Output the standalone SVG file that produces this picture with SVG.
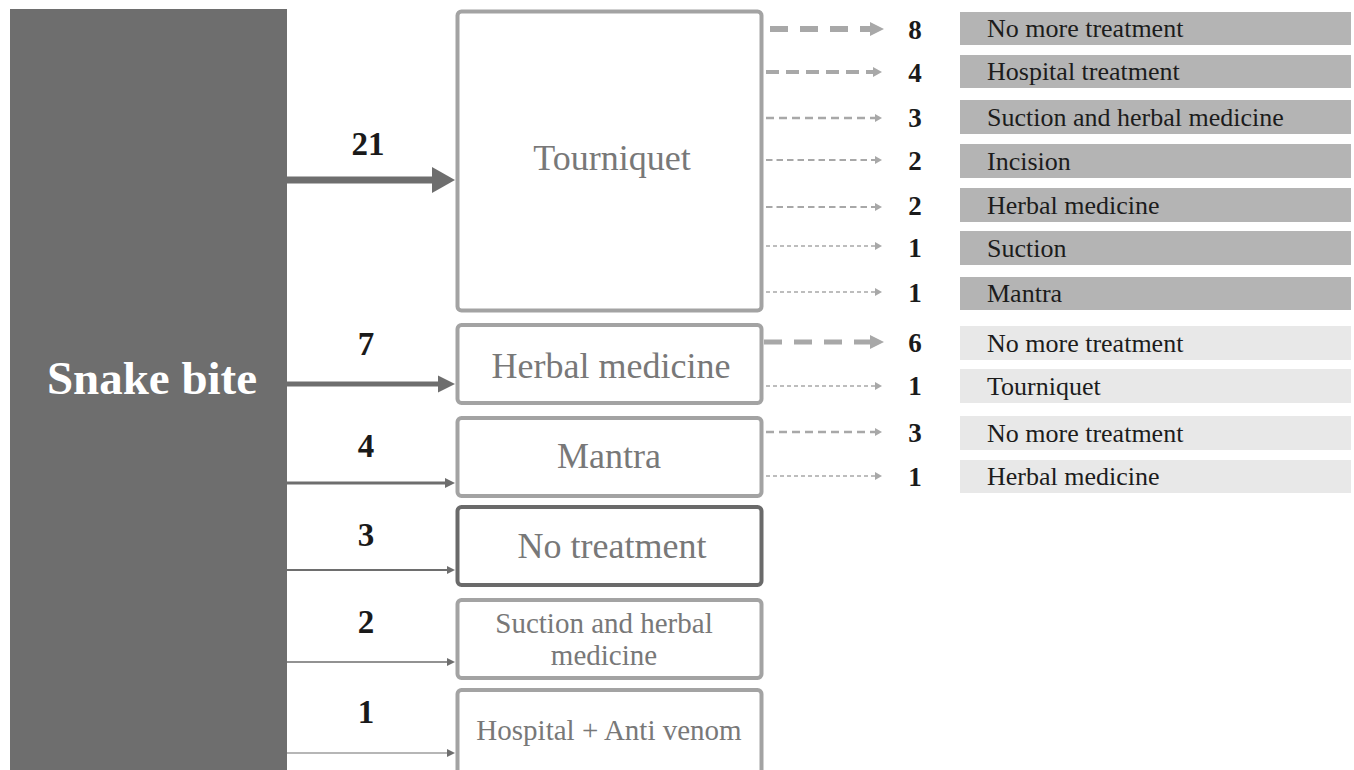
<svg xmlns="http://www.w3.org/2000/svg" width="1354" height="770" viewBox="0 0 1354 770">
<style>
.box{fill:#fff;stroke:#a3a3a3;stroke-width:4}
.boxd{fill:#fff;stroke:#6a6a6a;stroke-width:4}
.blab{font-family:"Liberation Serif",serif;fill:#787878;text-anchor:middle}
.num{font-family:"Liberation Serif",serif;font-weight:bold;fill:#1a1a1a;text-anchor:middle}
.rlab{font-family:"Liberation Serif",serif;font-size:26px;fill:#1c1c1c}
.bar1{fill:#b4b4b4}
.bar2{fill:#e8e8e8}
.sol{stroke:#6e6e6e;fill:none}
.dsh{stroke:#a8a8a8;fill:none}
</style>
<defs>
<marker id="hL1" markerUnits="userSpaceOnUse" markerWidth="24" markerHeight="26" refX="0" refY="13" orient="auto"><path d="M0,0 L23,13 L0,26 Z" fill="#6e6e6e"/></marker>
<marker id="hL2" markerUnits="userSpaceOnUse" markerWidth="18" markerHeight="18" refX="0" refY="9" orient="auto"><path d="M0,0.5 L17,9 L0,17.5 Z" fill="#6e6e6e"/></marker>
<marker id="hL3" markerUnits="userSpaceOnUse" markerWidth="11" markerHeight="11" refX="0" refY="5.5" orient="auto"><path d="M0,0.5 L10,5.5 L0,10.5 Z" fill="#6e6e6e"/></marker>
<marker id="hL4" markerUnits="userSpaceOnUse" markerWidth="9" markerHeight="9" refX="0" refY="4.5" orient="auto"><path d="M0,0.5 L8,4.5 L0,8.5 Z" fill="#6e6e6e"/></marker>
<marker id="hR1" markerUnits="userSpaceOnUse" markerWidth="15" markerHeight="16" refX="0" refY="8" orient="auto"><path d="M0,1 L14,8 L0,15 Z" fill="#a8a8a8"/></marker>
<marker id="hR2" markerUnits="userSpaceOnUse" markerWidth="10" markerHeight="12" refX="0" refY="6" orient="auto"><path d="M0,1 L9,6 L0,11 Z" fill="#a8a8a8"/></marker>
<marker id="hR3" markerUnits="userSpaceOnUse" markerWidth="8" markerHeight="10" refX="0" refY="5" orient="auto"><path d="M0,1 L7,5 L0,9 Z" fill="#a8a8a8"/></marker>
</defs>
<rect width="1354" height="770" fill="#fff"/>

<g id="snake-bite">
<rect x="10" y="9" width="277" height="770" fill="#6e6e6e"/>
<text x="152" y="394" font-family="Liberation Serif,serif" font-weight="bold" font-size="47" fill="#fff" text-anchor="middle">Snake bite</text>
</g>

<g id="tourniquet">
<rect class="box" x="457.5" y="11.5" width="304" height="299" rx="4"/>
<text class="blab" x="612" y="170" font-size="36">Tourniquet</text>
</g>
<g id="herbal-medicine">
<rect class="box" x="457.5" y="325" width="304" height="78" rx="4"/>
<text class="blab" x="611" y="378" font-size="36">Herbal medicine</text>
</g>
<g id="mantra">
<rect class="box" x="457.5" y="418" width="304" height="78" rx="4"/>
<text class="blab" x="609" y="468" font-size="36">Mantra</text>
</g>
<g id="no-treatment">
<rect class="boxd" x="457.5" y="507" width="304" height="78" rx="4"/>
<text class="blab" x="612" y="558" font-size="36">No treatment</text>
</g>
<g id="suction-herbal">
<rect class="box" x="457.5" y="600" width="304" height="78" rx="4"/>
<text class="blab" x="604" y="633" font-size="29">Suction and herbal</text>
<text class="blab" x="604" y="665" font-size="29">medicine</text>
</g>
<g id="hospital-antivenom">
<rect class="box" x="457.5" y="690" width="304" height="95" rx="4"/>
<text class="blab" x="609" y="740" font-size="29">Hospital + Anti venom</text>
</g>

<g id="outcomes">
<rect class="bar1" x="960" y="12" width="391" height="33"/>
<text class="rlab" x="987" y="37">No more treatment</text>
<rect class="bar1" x="960" y="55" width="391" height="33"/>
<text class="rlab" x="987" y="80">Hospital treatment</text>
<rect class="bar1" x="960" y="100" width="391" height="34"/>
<text class="rlab" x="987" y="126">Suction and herbal medicine</text>
<rect class="bar1" x="960" y="144" width="391" height="34"/>
<text class="rlab" x="987" y="170">Incision</text>
<rect class="bar1" x="960" y="188" width="391" height="34"/>
<text class="rlab" x="987" y="214">Herbal medicine</text>
<rect class="bar1" x="960" y="231" width="391" height="34"/>
<text class="rlab" x="987" y="257">Suction</text>
<rect class="bar1" x="960" y="277" width="391" height="33"/>
<text class="rlab" x="987" y="302">Mantra</text>
<rect class="bar2" x="960" y="326" width="391" height="34"/>
<text class="rlab" x="987" y="352">No more treatment</text>
<rect class="bar2" x="960" y="369" width="391" height="34"/>
<text class="rlab" x="987" y="395">Tourniquet</text>
<rect class="bar2" x="960" y="416" width="391" height="34"/>
<text class="rlab" x="987" y="442">No more treatment</text>
<rect class="bar2" x="960" y="460" width="391" height="33"/>
<text class="rlab" x="987" y="485">Herbal medicine</text>
</g>

<g id="connectors">
<line class="sol" x1="287" y1="180" x2="432" y2="180" stroke-width="7" marker-end="url(#hL1)"/>
<line class="sol" x1="287" y1="384" x2="438" y2="384" stroke-width="5" marker-end="url(#hL2)"/>
<line class="sol" x1="287" y1="483" x2="445" y2="483" stroke-width="3" marker-end="url(#hL3)"/>
<line class="sol" x1="287" y1="570" x2="447" y2="570" stroke-width="2" marker-end="url(#hL4)"/>
<line class="sol" x1="287" y1="662" x2="447" y2="662" stroke-width="1.5" marker-end="url(#hL4)"/>
<line class="sol" x1="287" y1="753" x2="447" y2="753" stroke-width="1.2" marker-end="url(#hL4)"/>

<line class="dsh" x1="770" y1="29" x2="870" y2="29" stroke-width="6" stroke-dasharray="18 12" marker-end="url(#hR1)"/>
<line class="dsh" x1="766" y1="72" x2="873" y2="72" stroke-width="4" stroke-dasharray="13 7" marker-end="url(#hR2)"/>
<line class="dsh" x1="766" y1="118" x2="875" y2="118" stroke-width="2.5" stroke-dasharray="8 5" marker-end="url(#hR3)"/>
<line class="dsh" x1="766" y1="160" x2="875" y2="160" stroke-width="2" stroke-dasharray="6.5 4" marker-end="url(#hR3)"/>
<line class="dsh" x1="766" y1="207" x2="875" y2="207" stroke-width="2" stroke-dasharray="6.5 4" marker-end="url(#hR3)"/>
<line class="dsh" x1="766" y1="246" x2="875" y2="246" stroke-width="1.5" stroke-dasharray="4 3" marker-end="url(#hR3)"/>
<line class="dsh" x1="766" y1="292" x2="875" y2="292" stroke-width="1.5" stroke-dasharray="4 3" marker-end="url(#hR3)"/>
<line class="dsh" x1="764" y1="342" x2="870" y2="342" stroke-width="5" stroke-dasharray="18 12" marker-end="url(#hR1)"/>
<line class="dsh" x1="766" y1="386" x2="875" y2="386" stroke-width="1.5" stroke-dasharray="4 3" marker-end="url(#hR3)"/>
<line class="dsh" x1="766" y1="432" x2="875" y2="432" stroke-width="2.5" stroke-dasharray="8 5" marker-end="url(#hR3)"/>
<line class="dsh" x1="766" y1="476" x2="875" y2="476" stroke-width="1.5" stroke-dasharray="4 3" marker-end="url(#hR3)"/>
</g>

<g id="counts">
<text class="num" x="368" y="155" font-size="33">21</text>
<text class="num" x="366" y="355" font-size="33">7</text>
<text class="num" x="366" y="457" font-size="33">4</text>
<text class="num" x="366" y="546" font-size="33">3</text>
<text class="num" x="366" y="633" font-size="33">2</text>
<text class="num" x="366" y="723" font-size="33">1</text>
<text class="num" x="915" y="39" font-size="27">8</text>
<text class="num" x="915" y="82" font-size="27">4</text>
<text class="num" x="915" y="127" font-size="27">3</text>
<text class="num" x="915" y="170" font-size="27">2</text>
<text class="num" x="915" y="215" font-size="27">2</text>
<text class="num" x="915" y="257" font-size="27">1</text>
<text class="num" x="915" y="302" font-size="27">1</text>
<text class="num" x="915" y="352" font-size="27">6</text>
<text class="num" x="915" y="395" font-size="27">1</text>
<text class="num" x="915" y="442" font-size="27">3</text>
<text class="num" x="915" y="486" font-size="27">1</text>
</g>
</svg>
